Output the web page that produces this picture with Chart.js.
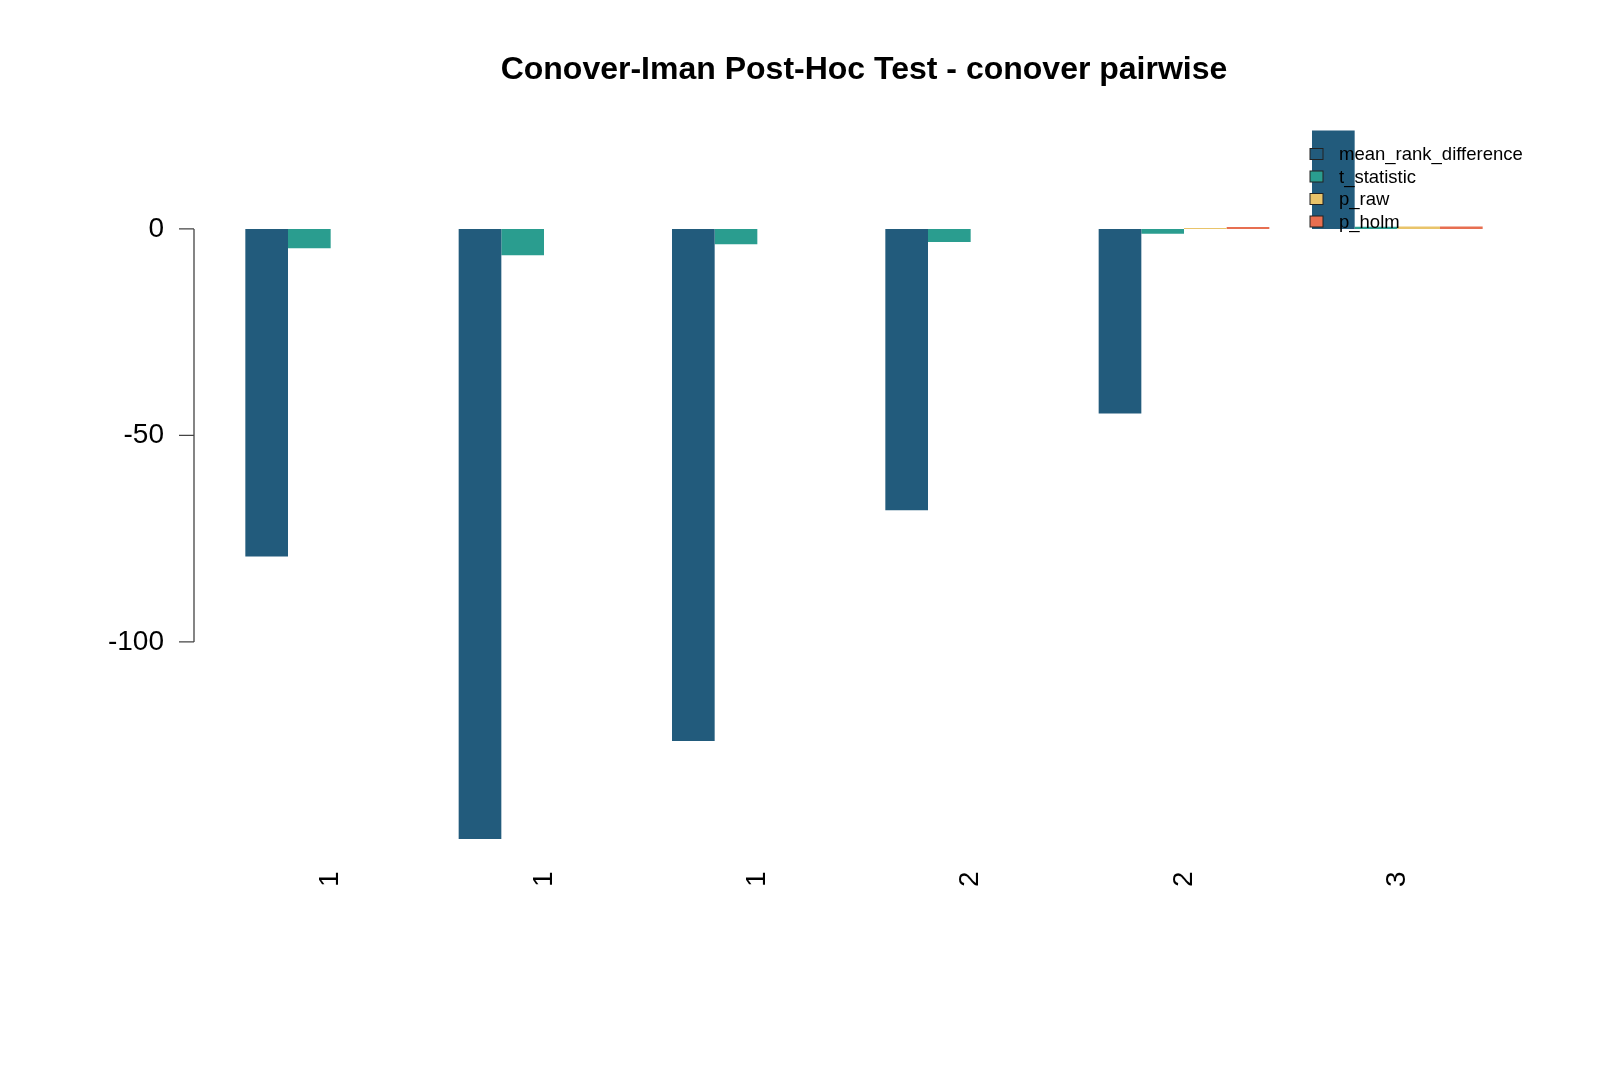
<!DOCTYPE html>
<html lang="en">

<head>
  <meta charset="UTF-8">
  <title>Conover-Iman Post-Hoc Test</title>
  <script src="https://cdn.jsdelivr.net/npm/chart.js"></script>
  <style>
    html, body { margin: 0; padding: 0; background: #fff; }
    #wrap { width: 1600px; height: 1067px; position: relative; }
  </style>
</head>

<body>
  <div id="wrap">
    <canvas id="conoverChart"></canvas>
  </div>

  <script>
    // comparisons (first group of each pair, as printed on the axis)
    const groups = ["1", "1", "1", "2", "2", "3"];

    const meanRankDifference = [-79.3, -147.7, -124.0, -68.1, -44.7, 23.8];
    const tStatistic = [-4.7, -6.4, -3.7, -3.2, -1.2, 0.5];
    const pRaw = [0.0, 0.0, 0.0, 0.001, 0.23, 0.6];
    const pHolm = [0.0, 0.0, 0.0, 0.003, 0.46, 0.6];

    const seriesNames = ["mean_rank_difference", "t_statistic", "p_raw", "p_holm"];
    const seriesColors = ["#225B7C", "#2A9D8F", "#E9C46A", "#E76F51"];

    const yTicks = [-100, -50, 0];
    const yMin = -154.6;
    const yMax = 30.5;

    const FONT = "'Liberation Sans', Arial, sans-serif";

    // R style axis: line only from first to last tick, outside the plot
    const rAxis = {
      id: 'rAxis',
      afterDraw(chart) {
        const ctx = chart.ctx;
        const y = chart.scales.y;
        const x0 = chart.chartArea.left - 30;
        const yTop = y.getPixelForValue(Math.max(...yTicks));
        const yBot = y.getPixelForValue(Math.min(...yTicks));
        ctx.save();
        ctx.strokeStyle = "#444";
        ctx.lineWidth = 1.3;
        ctx.beginPath();
        ctx.moveTo(x0, yTop);
        ctx.lineTo(x0, yBot);
        yTicks.forEach(v => {
          const py = y.getPixelForValue(v);
          ctx.moveTo(x0, py);
          ctx.lineTo(x0 - 15, py);
        });
        ctx.stroke();
        ctx.restore();
      }
    };

    // legend inside the plot, drawn over the bars like R's legend()
    const rLegend = {
      id: 'rLegend',
      afterDatasetsDraw(chart) {
        const ctx = chart.ctx;
        ctx.save();
        ctx.font = "18.5px " + FONT;
        ctx.textBaseline = "middle";
        chart.data.datasets.forEach((ds, i) => {
          const cy = 154 + i * 22.5;
          ctx.fillStyle = ds.backgroundColor;
          ctx.fillRect(1310, cy - 5.5, 13, 11);
          ctx.strokeStyle = "#222";
          ctx.lineWidth = 1;
          ctx.strokeRect(1310, cy - 5.5, 13, 11);
          ctx.fillStyle = "#000";
          ctx.fillText(ds.label, 1339, cy + 1);
        });
        ctx.restore();
      }
    };

    const seriesData = [meanRankDifference, tStatistic, pRaw, pHolm];

    new Chart(document.getElementById('conoverChart'), {
      type: 'bar',
      data: {
        labels: groups,
        datasets: seriesNames.map((name, i) => ({
          label: name,
          data: seriesData[i],
          backgroundColor: seriesColors[i],
          borderWidth: 0,
          barPercentage: 1,
          categoryPercentage: 0.8
        }))
      },
      options: {
        responsive: true,
        maintainAspectRatio: false,
        animation: false,
        layout: {
          padding: { left: 0, right: 96, top: 0, bottom: 0 }
        },
        plugins: {
          legend: { display: false },
          tooltip: { enabled: false },
          title: {
            display: true,
            fullSize: false,
            text: "Conover-Iman Post-Hoc Test - conover pairwise",
            color: "#000",
            font: { family: FONT, size: 32, weight: 'bold' },
            padding: { top: 51, bottom: 13.5 }
          }
        },
        scales: {
          x: {
            grid: { display: false },
            border: { display: false },
            ticks: {
              color: "#000",
              font: { family: FONT, size: 28 },
              minRotation: 90,
              maxRotation: 90,
              padding: -4
            },
            afterFit: s => { s.height = 199.5; }
          },
          y: {
            min: yMin,
            max: yMax,
            grid: { display: false },
            border: { display: false },
            ticks: {
              color: "#000",
              font: { family: FONT, size: 28 },
              padding: 52
            },
            afterBuildTicks: s => { s.ticks = yTicks.map(v => ({ value: v })); },
            afterFit: s => { s.width = 224; }
          }
        }
      },
      plugins: [rAxis, rLegend]
    });
  </script>
</body>

</html>
